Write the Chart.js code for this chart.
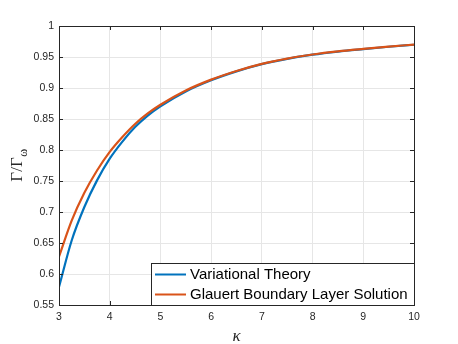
<!DOCTYPE html>
<html><head><meta charset="utf-8">
<script src="https://cdn.jsdelivr.net/npm/chart.js@4"></script>
<style>html,body{margin:0;padding:0;background:#fff}canvas{display:block}</style>
</head><body>
<canvas id="c" width="458" height="344"></canvas>
<script>
const kappa = [3, 3.25, 3.5, 3.75, 4, 4.25, 4.5, 4.75, 5, 5.5, 6, 6.5, 7, 7.5, 8, 8.5, 9, 9.5, 10];
const variationalTheory = [0.579, 0.654, 0.708, 0.751, 0.786, 0.8135, 0.837, 0.8555, 0.8705, 0.8945, 0.9125, 0.9268, 0.9384, 0.947, 0.9537, 0.9588, 0.9628, 0.9665, 0.9698];
const glauertSolution = [0.628, 0.686, 0.731, 0.767, 0.797, 0.821, 0.842, 0.859, 0.873, 0.896, 0.9135, 0.9275, 0.939, 0.9475, 0.954, 0.959, 0.963, 0.9667, 0.970];
const seriesLabels = ['Variational Theory', 'Glauert Boundary Layer Solution'];
const seriesColors = ['#0072BD', '#D95319'];
const xTicks = [3, 4, 5, 6, 7, 8, 9, 10];
const xTickLabels = ['3', '4', '5', '6', '7', '8', '9', '10'];
const yTicks = [0.55, 0.6, 0.65, 0.7, 0.75, 0.8, 0.85, 0.9, 0.95, 1];
const yTickLabels = ['0.55', '0.6', '0.65', '0.7', '0.75', '0.8', '0.85', '0.9', '0.95', '1'];
const xTitle = 'κ';
const yTitleMain = 'Γ/Γ';
const yTitleSub = 'ω';

const axisColor = '#262626';
const tickFont = {family: '"Liberation Sans", Arial, sans-serif', size: 10.5};

const toPoints = (xs, ys) => xs.map((x, i) => ({x: x, y: ys[i]}));

const decorPlugin = {
  id: 'decor',
  afterDatasetsDraw(chart) {
    const ctx = chart.ctx;
    const a = chart.chartArea;
    const xs = chart.scales.x, ys = chart.scales.y;
    ctx.save();
    ctx.strokeStyle = axisColor;
    ctx.lineWidth = 1;
    ctx.strokeRect(Math.round(a.left) + 0.5, Math.round(a.top) + 0.5, Math.round(a.right - a.left), Math.round(a.bottom - a.top));
    const tl = 4;
    ctx.beginPath();
    xTicks.forEach(v => {
      const px = Math.round(xs.getPixelForValue(v)) + 0.5;
      ctx.moveTo(px, a.bottom); ctx.lineTo(px, a.bottom - tl);
      ctx.moveTo(px, a.top); ctx.lineTo(px, a.top + tl);
    });
    yTicks.forEach(v => {
      const py = Math.round(ys.getPixelForValue(v)) + 0.5;
      ctx.moveTo(a.left, py); ctx.lineTo(a.left + tl, py);
      ctx.moveTo(a.right, py); ctx.lineTo(a.right - tl, py);
    });
    ctx.stroke();

    const lw = 263, lh = 42;
    const lx = Math.round(a.right) - lw, ly = Math.round(a.bottom) - lh;
    ctx.fillStyle = '#fff';
    ctx.fillRect(lx, ly, lw, lh);
    ctx.strokeStyle = axisColor;
    ctx.strokeRect(lx + 0.5, ly + 0.5, lw, lh);
    ctx.font = '15px "Liberation Sans", Arial, sans-serif';
    ctx.textBaseline = 'middle';
    ctx.textAlign = 'left';
    seriesLabels.forEach((lab, i) => {
      const ry = ly + 11.5 + i * 20;
      ctx.strokeStyle = seriesColors[i];
      ctx.lineWidth = 2;
      ctx.beginPath();
      ctx.moveTo(lx + 4, ry); ctx.lineTo(lx + 35, ry);
      ctx.stroke();
      ctx.fillStyle = '#000';
      ctx.fillText(lab, lx + 39, ry + 0.5);
    });

    ctx.fillStyle = axisColor;
    ctx.font = 'italic 17px "Liberation Serif", "Times New Roman", serif';
    ctx.textAlign = 'center';
    ctx.textBaseline = 'alphabetic';
    ctx.fillText(xTitle, (a.left + a.right) / 2, 341);

    ctx.save();
    ctx.translate(22, (a.top + a.bottom) / 2);
    ctx.rotate(-Math.PI / 2);
    ctx.font = '17px "Liberation Serif", "Times New Roman", serif';
    const mainW = ctx.measureText(yTitleMain).width;
    ctx.font = '12px "Liberation Serif", "Times New Roman", serif';
    const subW = ctx.measureText(yTitleSub).width;
    const start = -(mainW + subW) / 2;
    ctx.textAlign = 'left';
    ctx.font = '17px "Liberation Serif", "Times New Roman", serif';
    ctx.fillText(yTitleMain, start, 0);
    ctx.font = '12px "Liberation Serif", "Times New Roman", serif';
    ctx.fillText(yTitleSub, start + mainW + 0.5, 5);
    ctx.restore();

    ctx.restore();
  }
};

new Chart(document.getElementById('c'), {
  type: 'line',
  data: {
    datasets: [
      {label: seriesLabels[0], data: toPoints(kappa, variationalTheory), borderColor: seriesColors[0], borderWidth: 2.2, pointRadius: 0, fill: false, cubicInterpolationMode: 'monotone', order: 1},
      {label: seriesLabels[1], data: toPoints(kappa, glauertSolution), borderColor: seriesColors[1], borderWidth: 2.2, pointRadius: 0, fill: false, cubicInterpolationMode: 'monotone', order: 0}
    ]
  },
  options: {
    responsive: false,
    animation: false,
    devicePixelRatio: 1,
    layout: {padding: {top: 26, right: 44, left: 0, bottom: 0}},
    plugins: {legend: {display: false}, tooltip: {enabled: false}},
    scales: {
      x: {
        type: 'linear', min: 3, max: 10,
        afterBuildTicks: s => { s.ticks = xTicks.map(v => ({value: v})); },
        afterFit: s => { s.height = 39; },
        ticks: {font: tickFont, color: axisColor, padding: 6, maxRotation: 0, autoSkip: false,
          callback: (v, i) => xTickLabels[i]},
        grid: {color: '#e6e6e6', drawTicks: false},
        border: {display: false}
      },
      y: {
        type: 'linear', min: 0.55, max: 1,
        afterBuildTicks: s => { s.ticks = yTicks.map(v => ({value: v})); },
        afterFit: s => { s.width = 59; },
        ticks: {font: tickFont, color: axisColor, padding: 5, autoSkip: false,
          callback: (v, i) => yTickLabels[i]},
        grid: {color: '#e6e6e6', drawTicks: false},
        border: {display: false}
      }
    }
  },
  plugins: [decorPlugin]
});
</script>
</body></html>
